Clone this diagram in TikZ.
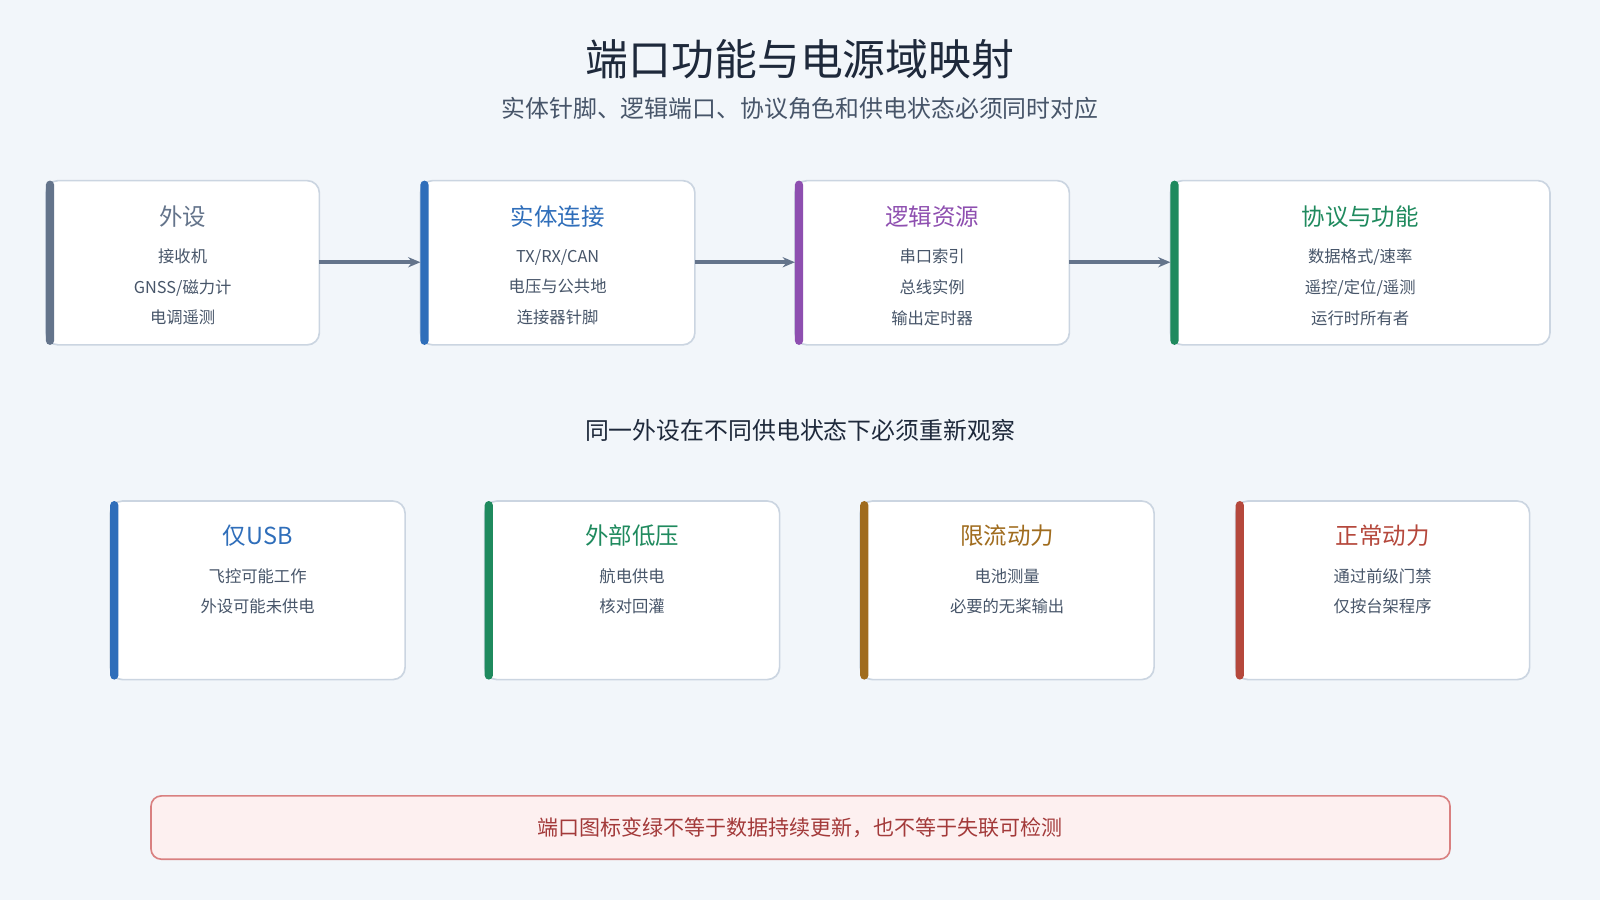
\documentclass[tikz,border=0pt]{standalone}
\usepackage{fontspec}
\setmainfont{Noto Sans CJK SC}
\usetikzlibrary{arrows.meta}
\definecolor{bg}{HTML}{F2F6FA}
\definecolor{bd}{HTML}{CBD5E1}
\definecolor{cgray}{HTML}{64748B}
\definecolor{cblue}{HTML}{2F6EBA}
\definecolor{cpurp}{HTML}{8E4FB0}
\definecolor{cgreen}{HTML}{1F8A5E}
\definecolor{corange}{HTML}{A06C1E}
\definecolor{cred}{HTML}{B5483C}
\definecolor{txt}{HTML}{1E293B}
\definecolor{sub}{HTML}{475569}
\definecolor{pinkbg}{HTML}{FDF0F0}
\definecolor{pinkbd}{HTML}{D98080}
\definecolor{banner}{HTML}{A33A3A}
\begin{document}
\begin{tikzpicture}[x=0.5pt,y=-0.5pt,
 card/.style={draw=bd,line width=0.8pt,fill=white,rounded corners=6pt},
 ttl/.style={font=\fontsize{11.5}{13}\selectfont},
 body/.style={font=\fontsize{8}{15}\selectfont,text=sub,align=center},
 arr/.style={draw=cgray,line width=1.8pt,-{Stealth[length=6pt,width=5pt]}}]
\fill[bg] (0,0) rectangle (1568,882);
\node[font=\fontsize{21}{24}\selectfont,text=txt] (title) at (784,58) {端口功能与电源域映射};
\node[font=\fontsize{11.7}{13}\selectfont,text=sub] (subt) at (784,106) {实体针脚、逻辑端口、协议角色和供电状态必须同时对应};
% top row
\foreach \n/\xa/\xb/\c/\t/\l in {
 a/45/313/cgray/外设/{接收机\\GNSS/磁力计\\电调遥测},
 b/412/681/cblue/实体连接/{TX/RX/CAN\\电压与公共地\\连接器针脚},
 c/779/1048/cpurp/逻辑资源/{串口索引\\总线实例\\输出定时器},
 d/1147/1519/cgreen/协议与功能/{数据格式/速率\\遥控/定位/遥测\\运行时所有者}}{
 \draw[card] (\xa,177) rectangle (\xb,338);
 \fill[\c,rounded corners=2pt] (\xa,177) rectangle (\xa+8,338);
 \coordinate (\n L) at (\xa,257); \coordinate (\n R) at (\xb,257);
 \node[ttl,text=\c] (\n t) at ({(\xa+\xb)/2},212) {\t};
 \node[body,anchor=north] (\n b) at ({(\xa+\xb)/2},237) {\l};
}
\draw[arr] (aR) -- (bL);
\draw[arr] (bR) -- (cL);
\draw[arr] (cR) -- (dL);
\node[font=\fontsize{11.7}{13}\selectfont,text=txt] (mid) at (784,422) {同一外设在不同供电状态下必须重新观察};
% bottom row
\foreach \n/\xa/\xb/\c/\t/\l in {
 e/108/397/cblue/仅USB/{飞控可能工作\\外设可能未供电},
 f/475/764/cgreen/外部低压/{航电供电\\核对回灌},
 g/843/1131/corange/限流动力/{电池测量\\必要的无桨输出},
 h/1211/1499/cred/正常动力/{通过前级门禁\\仅按台架程序}}{
 \draw[card] (\xa,491) rectangle (\xb,666);
 \fill[\c,rounded corners=2pt] (\xa,491) rectangle (\xa+8,666);
 \node[ttl,text=\c] (\n t) at ({(\xa+\xb)/2},525) {\t};
 \node[body,anchor=north] (\n b) at ({(\xa+\xb)/2},550) {\l};
}
\draw[draw=pinkbd,fill=pinkbg,line width=0.8pt,rounded corners=5pt] (148,780) rectangle (1421,842);
\node[font=\fontsize{10.3}{12}\selectfont,text=banner] (ban) at (784,811) {端口图标变绿不等于数据持续更新，也不等于失联可检测};
\end{tikzpicture}
\end{document}
